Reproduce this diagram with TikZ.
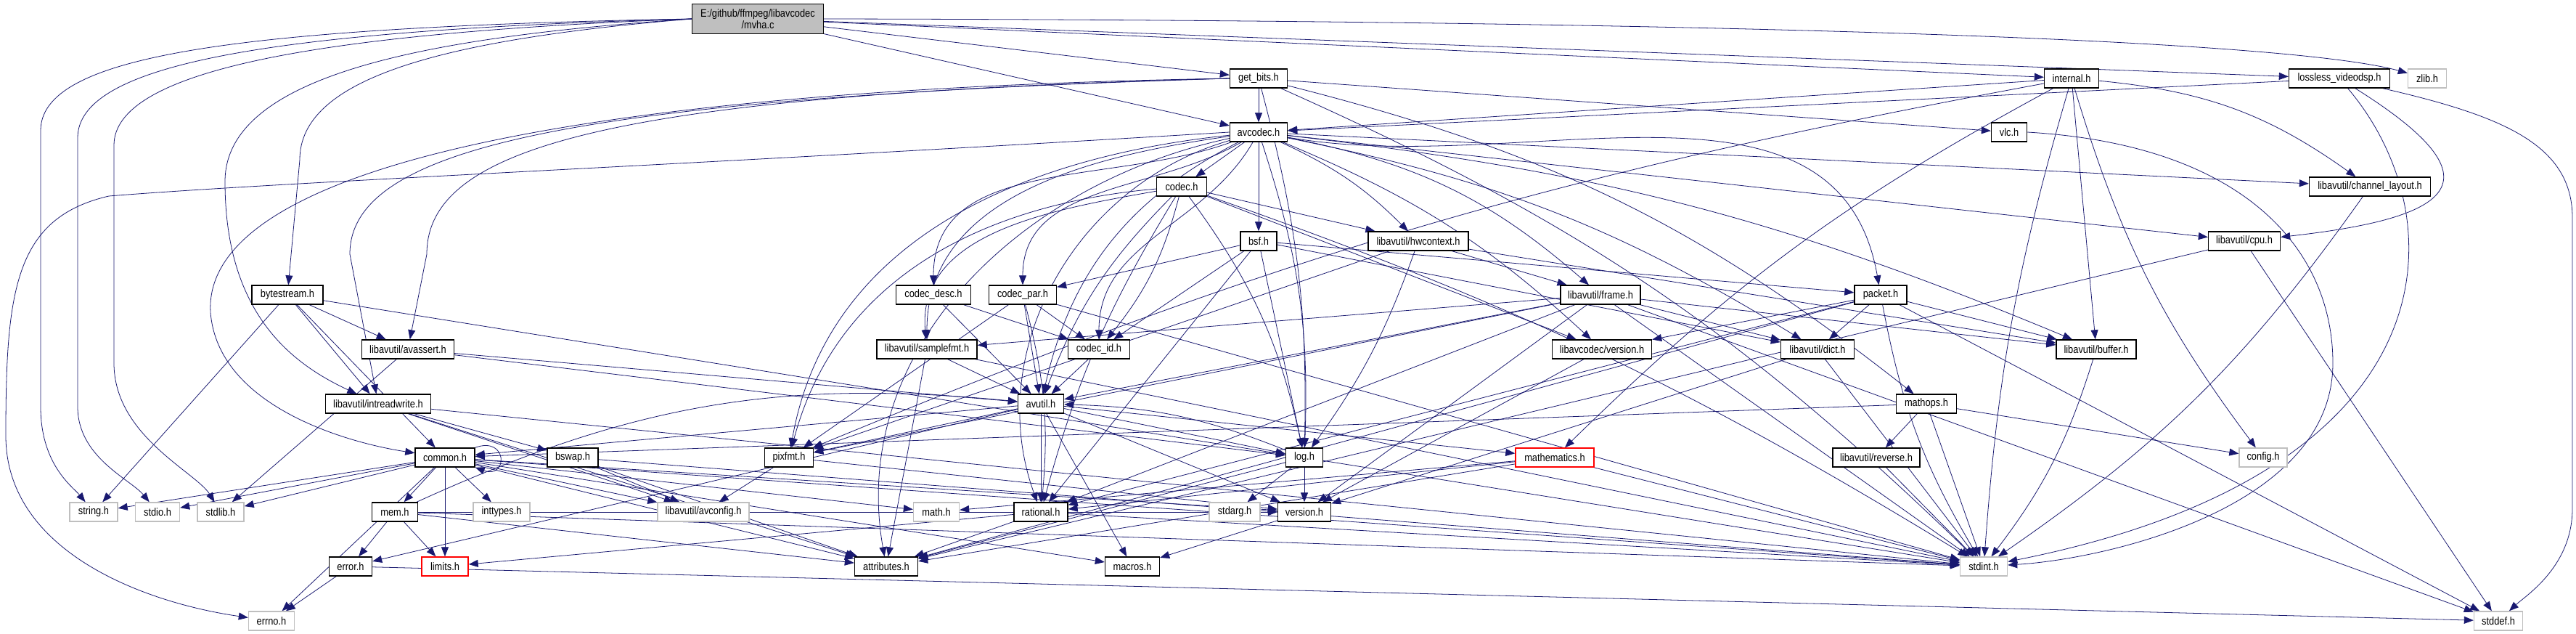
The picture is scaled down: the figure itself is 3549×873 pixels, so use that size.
\documentclass[tikz,border=0pt]{standalone}
\usepackage{fontspec}
\usetikzlibrary{arrows.meta,positioning}
\newfontfamily\dotfont[FakeStretch=0.86]{Liberation Sans}
\definecolor{edgeC}{HTML}{191970}
\definecolor{undoc}{HTML}{BFBFBF}
\definecolor{trunc}{HTML}{FF0000}
\definecolor{mainF}{HTML}{BFBFBF}
\pgfdeclarelayer{bg}
\pgfsetlayers{bg,main}
\tikzset{
  hdr/.style={draw=black, line width=0.8pt, fill=white, minimum height=5.2mm, inner sep=1pt,
    font=\dotfont\fontsize{8.5}{9}\selectfont},
  sys/.style={hdr, draw=undoc},
  cut/.style={hdr, draw=trunc},
  wd/.style={minimum width=#1*0.2mm},
  dep/.style={edgeC, line width=0.45pt, -{Triangle[length=2.6mm,width=2mm]}},
}

\begin{document}
\begin{tikzpicture}[x=0.2mm, y=-0.2mm]
\useasboundingbox (0,0) rectangle (3549,873);

% ---------- headers, row by row ----------
\node[hdr, wd=181, minimum height=8.2mm, fill=mainF, align=center] (mvha) at (1044,26) {E:/github/ffmpeg/libavcodec\\/mvha.c};

\node[hdr, wd=79]  (getbits)  at (1734,108) {get\_bits.h};
\node[hdr, wd=75]  (internal) at (2854,108) {internal.h};
\node[hdr, wd=139] (lossless) at (3223,108) {lossless\_videodsp.h};
\node[sys, wd=53]  (zlib)     at (3344,108) {zlib.h};

\node[hdr, wd=79]  (avcodec)  at (1734,182) {avcodec.h};
\node[hdr, wd=49]  (vlc)      at (2768,182) {vlc.h};

\node[hdr, wd=69]  (codec)    at (1628,257) {codec.h};
\node[hdr, wd=167] (chlayout) at (3265,257) {libavutil/channel\_layout.h};

\node[hdr, wd=50]  (bsf)      at (1734,332) {bsf.h};
\node[hdr, wd=138] (hwctx)    at (1954,332) {libavutil/hwcontext.h};
\node[hdr, wd=99]  (cpu)      at (3092,332) {libavutil/cpu.h};

\node[hdr, wd=98]  (bytestream) at (396,406)  {bytestream.h};
\node[hdr, wd=103] (codecdesc)  at (1286,406) {codec\_desc.h};
\node[hdr, wd=93]  (codecpar)   at (1409,406) {codec\_par.h};
\node[hdr, wd=110] (frame)      at (2205,406) {libavutil/frame.h};
\node[hdr, wd=72]  (packet)     at (2591,406) {packet.h};

\node[hdr, wd=127] (avassert)  at (562,481)  {libavutil/avassert.h};
\node[hdr, wd=138] (samplefmt) at (1277,481) {libavutil/samplefmt.h};
\node[hdr, wd=85]  (codecid)   at (1514,481) {codec\_id.h};
\node[hdr, wd=137] (lavcver)   at (2207,481) {libavcodec/version.h};
\node[hdr, wd=101] (dict)      at (2504,481) {libavutil/dict.h};
\node[hdr, wd=110] (buffer)    at (2888,481) {libavutil/buffer.h};

\node[hdr, wd=145] (intrw)   at (521,556)  {libavutil/intreadwrite.h};
\node[hdr, wd=63]  (avutil)  at (1434,556) {avutil.h};
\node[hdr, wd=83]  (mathops) at (2654,556) {mathops.h};

\node[hdr, wd=82]  (common)  at (613,630)  {common.h};
\node[hdr, wd=70]  (bswap)   at (789,630)  {bswap.h};
\node[hdr, wd=67]  (pixfmt)  at (1087,630) {pixfmt.h};
\node[hdr, wd=51]  (log)     at (1797,630) {log.h};
\node[cut, wd=108] (mathem)  at (2142,630) {mathematics.h};
\node[hdr, wd=120] (reverse) at (2585,630) {libavutil/reverse.h};
\node[sys, wd=66]  (config)  at (3118,630) {config.h};

\node[sys, wd=66]  (string)   at (129,705)  {string.h};
\node[sys, wd=61]  (stdio)    at (217,705)  {stdio.h};
\node[sys, wd=64]  (stdlib)   at (304,705)  {stdlib.h};
\node[hdr, wd=63]  (mem)      at (544,705)  {mem.h};
\node[sys, wd=78]  (inttypes) at (691,705)  {inttypes.h};
\node[sys, wd=126] (avconfig) at (969,705)  {libavutil/avconfig.h};
\node[sys, wd=63]  (math)     at (1290,705) {math.h};
\node[hdr, wd=74]  (rational) at (1434,705) {rational.h};
\node[sys, wd=70]  (stdarg)   at (1701,705) {stdarg.h};
\node[hdr, wd=73]  (version)  at (1797,705) {version.h};

\node[hdr, wd=59]  (errorh)     at (483,780)  {error.h};
\node[cut, wd=64]  (limits)     at (613,780)  {limits.h};
\node[hdr, wd=87]  (attributes) at (1221,780) {attributes.h};
\node[hdr, wd=75]  (macros)     at (1560,780) {macros.h};
\node[sys, wd=65]  (stdint)     at (2733,780) {stdint.h};

\node[sys, wd=63]  (errno)  at (374,855)  {errno.h};
\node[sys, wd=67]  (stddef) at (3442,855) {stddef.h};

% ---------- include edges ----------
\begin{pgfonlayer}{bg}
\fill[white] (0,0) rectangle (3549,873);
% mvha.c
\path (mvha) edge[dep] (avcodec) edge[dep] (getbits) edge[dep] (internal) edge[dep] (lossless);
\draw[dep] (mvha.east) .. controls (2400,28) and (3150,55) .. (zlib);
\draw[dep] (mvha.west) .. controls (300,38) and (56,80) .. (56,180) -- (56,560) .. controls (56,640) and (100,670) .. (string);
\draw[dep] (mvha.west) .. controls (360,42) and (107,90) .. (107,190) -- (107,560) .. controls (107,630) and (180,660) .. (stdio);
\draw[dep] (mvha.west) .. controls (420,46) and (157,100) .. (157,200) -- (157,500) .. controls (157,600) and (270,650) .. (stdlib);
\draw[dep] (mvha.west) .. controls (600,50) and (310,100) .. (310,250) .. controls (310,430) and (400,500) .. (intrw);
\draw[dep] (mvha.west) .. controls (600,55) and (413,110) .. (413,220) -- (bytestream);

% get_bits.h
\path (getbits) edge[dep] (avcodec) edge[dep] (vlc) edge[dep, bend left=12] (mathops) edge[dep, bend left=8] (log)
  edge[dep, bend left=10] (stdint);
\draw[dep] (getbits.west) .. controls (700,125) and (280,250) .. (290,430) .. controls (300,560) and (480,610) .. (common);
\draw[dep] (getbits.west) .. controls (800,135) and (482,200) .. (482,350) -- (intrw);
\draw[dep] (getbits.west) .. controls (850,130) and (588,200) .. (588,350) -- (avassert);

% internal.h, lossless_videodsp.h
\path (internal) edge[dep] (avcodec) edge[dep, bend left=15] (chlayout) edge[dep] (buffer) edge[dep, bend right=8] (mathem)
  edge[dep, bend right=6] (pixfmt) edge[dep, bend right=10] (config) edge[dep, bend right=6] (stdint);
\path (lossless) edge[dep] (avcodec);
\draw[dep] (lossless) .. controls (3450,250) and (3380,300) .. (cpu);
\draw[dep] (lossless) .. controls (3386,300) and (3386,650) .. (stdint);
\draw[dep] (lossless) .. controls (3450,160) and (3544,200) .. (3544,300) -- (3544,700) .. controls (3544,780) and (3480,820) .. (stddef);

% avcodec.h
\path (avcodec) edge[dep, out=188, in=90] (samplefmt) edge[dep, out=192, in=100] (attributes)
  edge[dep, bend right=25] (avutil) edge[dep, bend left=8] (buffer)
  edge[dep] (cpu) edge[dep] (chlayout) edge[dep, bend left=10] (dict) edge[dep, bend left=15] (frame)
  edge[dep, bend left=10] (hwctx) edge[dep, bend left=10] (log) edge[dep, out=186, in=80] (pixfmt)
  edge[dep, out=196, in=110] (rational) edge[dep] (bsf) edge[dep] (codec)
  edge[dep, out=200, in=90] (codecdesc) edge[dep, out=210, in=90] (codecpar) edge[dep, out=240, in=90] (codecid)
  edge[dep, out=-10, in=100] (packet) edge[dep, bend left=10] (lavcver);
\draw[dep] (avcodec.west) .. controls (900,230) and (400,250) .. (150,270) .. controls (20,300) and (8,400) .. (8,600) .. controls (8,760) and (200,830) .. (errno);

% vlc.h, codec.h, channel_layout.h, bsf.h
\draw[dep] (vlc.east) .. controls (3100,200) and (3214,350) .. (3214,500) .. controls (3214,700) and (2900,770) .. (stdint);
\path (codec) edge[dep, bend left=6] (stdint) edge[dep, bend right=12] (avutil) edge[dep] (hwctx) edge[dep, bend left=12] (log)
  edge[dep, out=185, in=75] (pixfmt) edge[dep, bend right=8] (rational) edge[dep, out=190, in=95] (samplefmt)
  edge[dep, bend left=12] (codecid) edge[dep] (lavcver);
\path (chlayout) edge[dep, bend left=10] (stdint);
\path (bsf) edge[dep] (dict) edge[dep] (log) edge[dep] (rational) edge[dep] (codecid) edge[dep] (codecpar) edge[dep] (packet);

% hwcontext.h, cpu.h, bytestream.h
\path (hwctx) edge[dep] (buffer) edge[dep] (frame) edge[dep, bend left=8] (log) edge[dep] (pixfmt);
\path (cpu) edge[dep] (attributes) edge[dep] (stddef);
\path (bytestream) edge[dep] (stdint) edge[dep] (string) edge[dep] (avassert) edge[dep] (common) edge[dep] (intrw);

% codec_desc.h, codec_par.h, frame.h, packet.h
\path (codecdesc) edge[dep] (avutil) edge[dep] (codecid);
\path (codecpar) edge[dep] (stdint) edge[dep] (avutil) edge[dep, bend left=10] (rational) edge[dep] (pixfmt) edge[dep] (codecid);
\path (frame) edge[dep] (stddef) edge[dep] (stdint) edge[dep] (avutil) edge[dep] (buffer) edge[dep] (dict)
  edge[dep] (rational) edge[dep] (samplefmt) edge[dep] (pixfmt) edge[dep] (version);
\path (packet) edge[dep] (stddef) edge[dep, bend right=10] (stdint) edge[dep] (attributes) edge[dep] (buffer)
  edge[dep] (dict) edge[dep] (rational) edge[dep] (lavcver);

% libavutil row
\path (avassert) edge[dep] (stdlib) edge[dep] (avutil) edge[dep] (log);
\path (samplefmt) edge[dep] (stdint) edge[dep] (avutil) edge[dep] (attributes);
\path (codecid) edge[dep] (avutil);
\path (lavcver) edge[dep] (version);
\path (dict) edge[dep] (stdint) edge[dep] (version);
\path (buffer) edge[dep, bend left=10] (stdint);
\path (intrw) edge[dep] (stdint) edge[dep] (avconfig) edge[dep] (attributes) edge[dep] (bswap);
\path (avutil) edge[dep] (common) edge[dep] (errorh) edge[dep] (rational) edge[dep] (version)
  edge[dep] (macros) edge[dep] (mathem) edge[dep] (log) edge[dep] (pixfmt);
\path (mathops) edge[dep] (stdint) edge[dep] (common) edge[dep] (reverse) edge[dep] (config);

% common.h and below
\path (common) edge[dep] (errno) edge[dep] (inttypes) edge[dep] (limits) edge[dep] (math) edge[dep] (stdint)
  edge[dep] (stdio) edge[dep] (stdlib) edge[dep] (string) edge[dep] (attributes) edge[dep] (macros)
  edge[dep] (version) edge[dep] (avconfig) edge[dep] (mem);
\draw[dep] (common.north east) .. controls (700,600) and (700,660) .. (common.south east);
\path (bswap) edge[dep] (stdint) edge[dep] (avconfig) edge[dep] (attributes);
\path (pixfmt) edge[dep] (avconfig) edge[dep] (version);
\path (log) edge[dep] (stdarg) edge[dep, bend right=10] (avutil) edge[dep] (attributes) edge[dep] (version);
\path (mathem) edge[dep] (stdint) edge[dep] (math) edge[dep] (attributes) edge[dep] (rational);
\path (reverse) edge[dep] (stdint);
\path (mem) edge[dep] (limits) edge[dep] (stdint) edge[dep] (attributes) edge[dep] (errorh)
  edge[dep, bend left=15] (avutil) edge[dep] (version);
\path (rational) edge[dep] (stdint) edge[dep] (limits) edge[dep] (attributes);
\path (version) edge[dep] (macros);
\path (errorh) edge[dep] (errno) edge[dep] (stddef);
\end{pgfonlayer}

\end{tikzpicture}
\end{document}
